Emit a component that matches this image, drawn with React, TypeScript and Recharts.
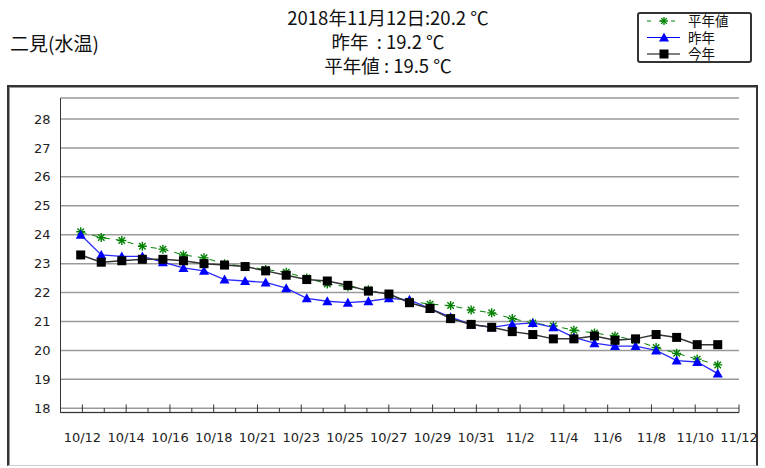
import React from 'react';
import { LineChart, Line, XAxis, YAxis, CartesianGrid } from 'recharts';

// daily categories shown on the chart
const dates = [
  '10/12', '10/13', '10/14', '10/15', '10/16', '10/17', '10/18', '10/19', '10/20', '10/21',
  '10/22', '10/23', '10/24', '10/25', '10/26', '10/27', '10/28', '10/29', '10/30', '10/31',
  '11/1', '11/2', '11/3', '11/4', '11/5', '11/6', '11/7', '11/8', '11/9', '11/10', '11/11', '11/12',
];

// labels printed under every second tick of the x axis
const xTickLabels = [
  '10/12', '10/14', '10/16', '10/18', '10/21', '10/23', '10/25', '10/27',
  '10/29', '10/31', '11/2', '11/4', '11/6', '11/8', '11/10', '11/12',
];

// 平年値
const normalTemps = [
  24.1, 23.9, 23.8, 23.6, 23.5, 23.3, 23.2, 23.0, 22.9, 22.8, 22.7, 22.5, 22.3, 22.2, 22.1, 21.9,
  21.7, 21.6, 21.55, 21.4, 21.3, 21.1, 20.95, 20.85, 20.7, 20.6, 20.5, 20.35, 20.1, 19.9, 19.7, 19.5,
];

// 昨年
const lastYearTemps = [
  24.0, 23.3, 23.25, 23.25, 23.05, 22.85, 22.75, 22.45, 22.4, 22.35, 22.15, 21.8, 21.7, 21.65, 21.7, 21.8,
  21.75, 21.45, 21.15, 20.9, 20.8, 20.9, 20.95, 20.8, 20.45, 20.25, 20.15, 20.15, 20.0, 19.65, 19.6, 19.2,
];

// 今年
const thisYearTemps = [
  23.3, 23.05, 23.1, 23.15, 23.15, 23.1, 23.0, 22.95, 22.9, 22.75, 22.6, 22.45, 22.4, 22.25, 22.05, 21.95,
  21.65, 21.45, 21.1, 20.9, 20.8, 20.65, 20.55, 20.4, 20.4, 20.5, 20.35, 20.4, 20.55, 20.45, 20.2, 20.2,
];

const yTicks = [18, 19, 20, 21, 22, 23, 24, 25, 26, 27, 28];

const data = dates.map((date, i) => ({
  i,
  date,
  normal: normalTemps[i],
  last: lastYearTemps[i],
  now: thisYearTemps[i],
}));

// one tick slot per day, labels on odd slots
const tickSlots = dates.map((_, i) => i);

const FONT = '"DejaVu Sans", Verdana, sans-serif';
const JP = '"Noto Sans CJK JP", "Noto Sans", sans-serif';

const Star = ({ cx, cy, r = 4.5 }: { cx: number; cy: number; r?: number }) => {
  const d = r * 0.72;
  return (
    <g stroke="#008000" strokeWidth={1.4}>
      <line x1={cx - r} y1={cy} x2={cx + r} y2={cy} />
      <line x1={cx} y1={cy - r} x2={cx} y2={cy + r} />
      <line x1={cx - d} y1={cy - d} x2={cx + d} y2={cy + d} />
      <line x1={cx - d} y1={cy + d} x2={cx + d} y2={cy - d} />
    </g>
  );
};

const Tri = ({ cx, cy }: { cx: number; cy: number }) => (
  <polygon points={`${cx},${cy - 5} ${cx + 5},${cy + 4} ${cx - 5},${cy + 4}`} fill="#0000ff" />
);

const Sq = ({ cx, cy }: { cx: number; cy: number }) => (
  <rect x={cx - 4.5} y={cy - 4.5} width={9} height={9} fill="#000" />
);

const SlotTick = (props: any) => {
  const { x, y, payload } = props;
  const slot = payload.value as number;
  const major = slot % 2 === 1;
  return (
    <g>
      <line x1={x} x2={x} y1={y} y2={y - (major ? 8 : 4.5)} stroke="#333" />
      {major && (
        <text x={x} y={y + 29} textAnchor="middle" fontSize={13} fontFamily={FONT} fill="#222">
          {xTickLabels[(slot - 1) / 2]}
        </text>
      )}
    </g>
  );
};

const LegendBox = () => (
  <div
    style={{
      position: 'absolute',
      left: 637,
      top: 12,
      width: 111,
      height: 47,
      border: '2px solid #333',
      borderRadius: 3,
      background: '#fff',
    }}
  >
    <svg width={111} height={47} style={{ position: 'absolute', left: 0, top: 0, overflow: 'visible' }}>
      <line x1={8} x2={41} y1={7} y2={7} stroke="#008000" strokeDasharray="4 8" />
      <Star cx={25} cy={7} r={4} />
      <line x1={8} x2={41} y1={23.5} y2={23.5} stroke="#0000ff" />
      <Tri cx={25} cy={23.5} />
      <line x1={8} x2={41} y1={40} y2={40} stroke="#000" />
      <Sq cx={25} cy={40} />
      <g fontFamily={JP} fontSize={13.5} fill="#111">
        <text x={49} y={12}>平年値</text>
        <text x={49} y={28.5}>昨年</text>
        <text x={49} y={45}>今年</text>
      </g>
    </svg>
  </div>
);

export default function App() {
  return (
    <div style={{ position: 'absolute', left: 0, top: 0, width: 765, height: 468, background: '#fff', overflow: 'hidden' }}>
      <div style={{ position: 'absolute', left: 10, top: 30, fontFamily: JP, fontSize: 19, lineHeight: '26px', color: '#111' }}>
        二見(水温)
      </div>
      <div
        style={{
          position: 'absolute',
          left: 0,
          top: 5,
          width: 776,
          textAlign: 'center',
          fontFamily: JP,
          fontSize: 18.5,
          lineHeight: '24px',
          color: '#111',
        }}
      >
        <div>2018年11月12日:20.2 ℃</div>
        <div>昨年&nbsp;&nbsp;: 19.2 ℃</div>
        <div>平年値 : 19.5 ℃</div>
      </div>
      <LegendBox />
      <div
        style={{
          position: 'absolute',
          left: 7,
          top: 85,
          width: 747,
          height: 378,
          border: '2px solid #333',
          borderBottom: '1px solid #ccc',
          boxShadow: 'inset 1px 1px 0 #999',
        }}
      />
      <LineChart
        width={765}
        height={468}
        data={data}
        margin={{ top: 98, right: 26, bottom: 25.5, left: 0 }}
        style={{ position: 'absolute', left: 0, top: 0 }}
      >
        <CartesianGrid xAxisId="ticks" vertical={false} stroke="#9a9a9a" strokeWidth={1.5} />
        <XAxis
          xAxisId="ticks"
          type="number"
          domain={[-0.601, 31.27]}
          allowDataOverflow
          ticks={tickSlots}
          interval={0}
          tick={<SlotTick />}
          tickLine={false}
          tickSize={0}
          tickMargin={0}
          height={30}
          axisLine={{ stroke: '#333' }}
        />
        <XAxis
          xAxisId="data"
          type="number"
          dataKey="i"
          domain={[-0.983, 32.034]}
          allowDataOverflow
          height={0}
          hide
        />
        <YAxis
          width={60.5}
          domain={[17.855, 28.725]}
          allowDataOverflow
          ticks={yTicks}
          interval={0}
          tickLine={false}
          tickSize={0}
          tickMargin={10}
          axisLine={{ stroke: '#333' }}
          tick={{ fontSize: 13, fontFamily: FONT, fill: '#222' }}
        />
        <Line
          xAxisId="data"
          dataKey="normal"
          stroke="#008000"
          strokeWidth={1}
          strokeDasharray="6 6"
          isAnimationActive={false}
          dot={(p: any) => <Star key={`n${p.index}`} cx={p.cx} cy={p.cy} />}
        />
        <Line
          xAxisId="data"
          dataKey="last"
          stroke="#2a2aff"
          strokeWidth={1.3}
          isAnimationActive={false}
          dot={(p: any) => <Tri key={`l${p.index}`} cx={p.cx} cy={p.cy} />}
        />
        <Line
          xAxisId="data"
          dataKey="now"
          stroke="#333"
          strokeWidth={1.5}
          isAnimationActive={false}
          dot={(p: any) => <Sq key={`t${p.index}`} cx={p.cx} cy={p.cy} />}
        />
      </LineChart>
    </div>
  );
}
